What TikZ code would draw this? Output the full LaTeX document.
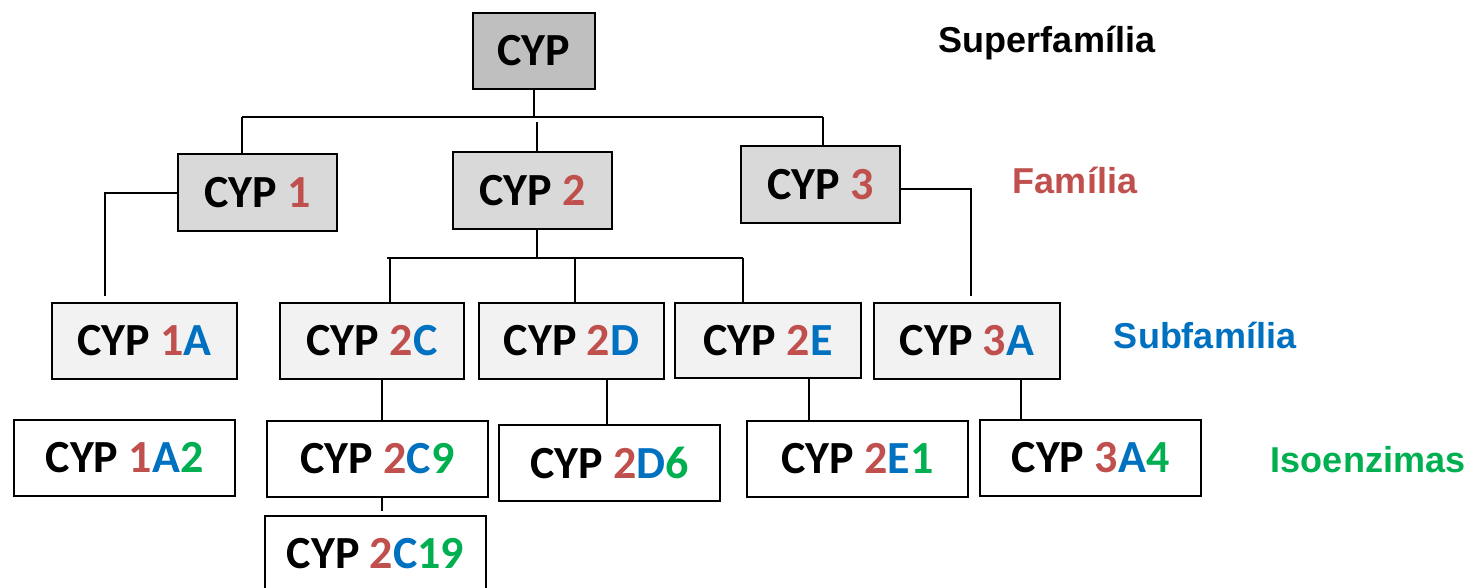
\documentclass[tikz,border=0pt]{standalone}
\usepackage{fontspec}
\setmainfont{Carlito}
\newfontfamily\labfont{Liberation Sans}
\definecolor{cypred}{HTML}{C0504D}
\definecolor{cypblue}{HTML}{0070C0}
\definecolor{cypgreen}{HTML}{00B050}
\definecolor{gtop}{HTML}{BFBFBF}
\definecolor{gfam}{HTML}{D9D9D9}
\definecolor{gsub}{HTML}{F2F2F2}
\newcommand{\cred}[1]{\textcolor{cypred}{#1}}
\newcommand{\cblue}[1]{\textcolor{cypblue}{#1}}
\newcommand{\cgreen}[1]{\textcolor{cypgreen}{#1}}
\tikzset{
  cypbox/.style={draw=black, line width=2.2pt, inner sep=0pt, minimum height=76pt,
    font=\fontsize{46}{50}\selectfont\bfseries, text=black},
  topbox/.style={cypbox, fill=gtop, minimum width=122pt},
  fambox/.style={cypbox, fill=gfam, minimum width=159pt, minimum height=77pt},
  subbox/.style={cypbox, fill=gsub, minimum width=185pt},
  isobox/.style={cypbox, fill=white, minimum width=221pt},
  conn/.style={draw=black, line width=1.8pt},
  levellabel/.style={font=\labfont\fontsize{36}{40}\selectfont\bfseries, inner sep=0pt}
}
\begin{document}
\begin{tikzpicture}[x=1pt, y=-1pt]
\useasboundingbox (0,0) rectangle (1470,588);
\clip (0,0) rectangle (1470,588);
\fill[white] (0,0) rectangle (1470,588);

% boxes
\node[topbox] (cyp) at (534,51) {CYP};
\node[fambox] (c1) at (257.5,192.5) {CYP \cred{1}};
\node[fambox] (c2) at (532.5,190.5) {CYP \cred{2}};
\node[fambox] (c3) at (820.5,184.5) {CYP \cred{3}};

\node[subbox] (c1a) at (144.5,341) {CYP \cred{1}\cblue{A}};
\node[subbox, minimum width=184pt] (c2c) at (372,341) {CYP \cred{2}\cblue{C}};
\node[subbox] (c2d) at (571.5,341) {CYP \cred{2}\cblue{D}};
\node[subbox, minimum width=186pt, minimum height=75pt] (c2e) at (768,340.5) {CYP \cred{2}\cblue{E}};
\node[subbox, minimum width=186pt] (c3a) at (967,341) {CYP \cred{3}\cblue{A}};

\node[isobox] (c1a2) at (124.5,458) {CYP \cred{1}\cblue{A}\cgreen{2}};
\node[isobox] (c2c9) at (377.5,459) {CYP \cred{2}\cblue{C}\cgreen{9}};
\node[isobox] (c2d6) at (609.5,463) {CYP \cred{2}\cblue{D}\cgreen{6}};
\node[isobox] (c2e1) at (857.5,459) {CYP \cred{2}\cblue{E}\cgreen{1}};
\node[isobox] (c3a4) at (1090.5,458) {CYP \cred{3}\cblue{A}\cgreen{4}};
\node[isobox] (c2c19) at (375.5,554) {CYP \cred{2}\cblue{C}\cgreen{19}};

% level labels
\node[levellabel, text=black] (lsuper) at (1047,43) {Superfamília};
\node[levellabel, text=cypred] (lfam) at (1075,180) {Família};
\node[levellabel, text=cypblue] (lsub) at (1205,335) {Subfamília};
\node[levellabel, text=cypgreen] (liso) at (1368,460) {Isoenzimas};

% connectors: superfamily -> families
\coordinate (b1) at (242,117);
\coordinate (b3) at (823,117);
\draw[conn] (cyp.south) -- (cyp.south |- b1);
\draw[conn] (b1) -- (b3);
\draw[conn] (b1) -- (b1 |- c1.north);
\draw[conn] (b3) -- (b3 |- c3.north);
\coordinate (m2) at (537,122);
\draw[conn] (m2 |- c2.north) -- (m2);

% CYP1 -> CYP1A
\coordinate (k1) at (105,193);
\draw[conn, shorten >=6pt] (c1.west |- k1) -- (k1) -- (k1 |- c1a.north);

% CYP2 -> 2C, 2D, 2E
\coordinate (b2l) at (387,258);
\coordinate (b2r) at (743,258);
\coordinate (b2m) at (537,258);
\coordinate (x2c) at (390,258);
\coordinate (x2d) at (575,258);
\draw[conn] (b2m |- c2.south) -- (b2m);
\draw[conn] (b2l) -- (b2r);
\draw[conn] (x2c) -- (x2c |- c2c.north);
\draw[conn] (x2d) -- (x2d |- c2d.north);
\draw[conn] (b2r) -- (b2r |- c2e.north);

% CYP3 -> CYP3A
\coordinate (k3) at (971,189);
\draw[conn, shorten >=6pt] (c3.east |- k3) -- (k3) -- (k3 |- c3a.north);

% subfamilies -> isoenzymes
\path ([xshift=10pt]c2c.south) coordinate (t2c);
\draw[conn] (t2c) -- (t2c |- c2c9.north);
\path ([xshift=4.5pt]c2c9.south) coordinate (t2c9);
\draw[conn, shorten >=4pt] (t2c9) -- (t2c9 |- c2c19.north);
\path ([xshift=35.5pt]c2d.south) coordinate (t2d);
\draw[conn] (t2d) -- (t2d |- c2d6.north);
\path ([xshift=41pt]c2e.south) coordinate (t2e);
\draw[conn] (t2e) -- (t2e |- c2e1.north);
\path ([xshift=54pt]c3a.south) coordinate (t3a);
\draw[conn] (t3a) -- (t3a |- c3a4.north);
\end{tikzpicture}
\end{document}
